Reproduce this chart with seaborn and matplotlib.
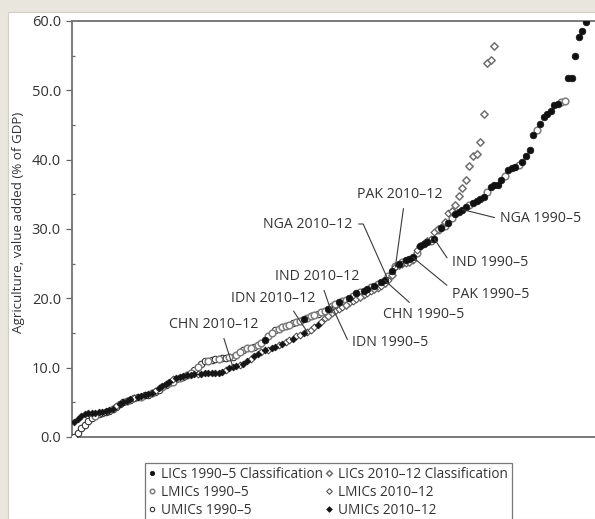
import matplotlib
matplotlib.use("Agg")
import matplotlib.pyplot as plt
from matplotlib.patches import Rectangle
from matplotlib.lines import Line2D
import seaborn as sns
import pandas as pd

sns.set_theme(style="white")
plt.rcParams["font.family"] = ["Open Sans", "DejaVu Sans"]

# Agriculture value added (% of GDP), countries ranked within each period
share_1990 = [
    0.0, 0.6, 1.3, 1.8, 2.3, 2.7, 3.0, 3.3, 3.5, 3.6,
    3.8, 4.0, 4.3, 4.7, 5.0, 5.2, 5.4, 5.6, 5.7, 5.8,
    6.0, 6.1, 6.3, 6.5, 6.8, 7.2, 7.5, 7.8, 8.0, 8.3,
    8.5, 8.7, 8.9, 9.3, 9.6, 10.1, 10.6, 10.9, 11.0, 11.1,
    11.2, 11.3, 11.4, 11.4, 11.5, 11.6, 11.8, 12.2, 12.5, 12.8,
    12.9, 13.0, 13.3, 13.6, 14.0, 14.5, 15.0, 15.4, 15.6, 15.8,
    16.0, 16.2, 16.4, 16.6, 16.8, 17.0, 17.2, 17.4, 17.6, 17.8,
    18.0, 18.2, 18.5, 18.9, 19.2, 19.4, 19.6, 19.8, 20.1, 20.4,
    20.7, 20.9, 21.1, 21.4, 21.6, 21.8, 22.0, 22.3, 22.6, 23.2,
    24.0, 24.6, 25.0, 25.3, 25.5, 25.7, 25.9, 26.5, 27.5, 27.8,
    28.1, 28.3, 28.6, 29.8, 30.2, 30.5, 30.8, 31.6, 32.2, 32.5,
    32.8, 33.2, 33.5, 33.8, 34.1, 34.3, 34.6, 35.3, 36.0, 36.3,
    36.4, 37.0, 37.7, 38.5, 38.8, 39.0, 39.2, 39.7, 40.6, 41.4,
    43.6, 44.3, 45.1, 46.2, 46.6, 47.0, 47.9, 48.1, 48.3, 48.5,
    51.8, 51.8, 55.0, 57.7, 58.6, 59.9,
]
# income group of each country under the 1990-5 classification (L/M/U)
group_1990 = (
    "UUUUUUMUUU" "UMUUUMUUUM" "UUMUUMUMMU" "MUMMUMUUMU" "UMUUMUMMUM"
    "MUMMLMMUMM" "MMUMMLMMMU" "MMLMMLMMLM" "LMLLMLMLLM" "LMLMLLLMLL"
    "LMLMLMLMLL" "LLMLLLLMLL" "LLMLLLMLLL" "LMLLLLLLMM" "LLLLLL"
)

share_2010 = [
    2.2, 2.6, 3.0, 3.3, 3.4, 3.5, 3.5, 3.6, 3.6, 3.7,
    3.9, 4.1, 4.4, 4.8, 5.0, 5.2, 5.5, 5.6, 5.7, 5.9,
    6.0, 6.2, 6.4, 6.7, 7.0, 7.3, 7.6, 8.0, 8.3, 8.5,
    8.7, 8.8, 8.9, 9.0, 9.1, 9.1, 9.1, 9.2, 9.2, 9.2,
    9.2, 9.3, 9.4, 9.6, 9.9, 10.1, 10.2, 10.4, 10.6, 11.0,
    11.3, 11.7, 12.0, 12.3, 12.5, 12.6, 12.8, 13.0, 13.2, 13.4,
    13.7, 14.0, 14.2, 14.5, 14.7, 15.0, 15.2, 15.5, 15.8, 16.2,
    16.6, 17.1, 17.5, 17.9, 18.2, 18.5, 18.8, 19.0, 19.3, 19.6,
    19.9, 20.2, 20.5, 20.8, 21.1, 21.3, 21.5, 21.8, 22.2, 22.6,
    23.4, 24.5, 24.8, 25.0, 25.1, 25.3, 25.6, 27.0, 27.6, 28.0,
    28.2, 28.5, 29.5, 30.0, 30.3, 31.0, 32.3, 32.6, 33.5, 34.8,
    35.9, 37.1, 39.1, 40.5, 40.8, 42.6, 46.6, 54.0, 54.4, 56.4,
]
group_2010 = (
    "UUUUUUUUUU" "UUMUUUUMUU" "UUUMUUUUMU" "UUUUUMUUUU" "UUUMUUUMUU"
    "MUUMUMUUMU" "MMUMMUMMMU" "MMLMMMMLMM" "MLMMMLMMLM" "LMLMMLMMLM"
    "LMMLMLMLLL" "LLLLLLLLLL"
)

# labelled countries: (text, period, rank)
callouts = [
    ("CHN 2010–12", "2010", 45),
    ("IDN 2010–12", "2010", 66),
    ("IND 2010–12", "2010", 73),
    ("NGA 2010–12", "2010", 89),
    ("PAK 2010–12", "2010", 91),
    ("IDN 1990–5", "1990", 73),
    ("CHN 1990–5", "1990", 88),
    ("PAK 1990–5", "1990", 96),
    ("IND 1990–5", "1990", 102),
    ("NGA 1990–5", "1990", 110),
]

legend_labels = {
    ("1990", "L"): "LICs 1990–5 Classification",
    ("1990", "M"): "LMICs 1990–5",
    ("1990", "U"): "UMICs 1990–5",
    ("2010", "L"): "LICs 2010–12 Classification",
    ("2010", "M"): "LMICs 2010–12",
    ("2010", "U"): "UMICs 2010–12",
}

df = pd.concat([
    pd.DataFrame({"rank": range(len(share_1990)), "share": share_1990,
                  "group": list(group_1990), "period": "1990"}),
    pd.DataFrame({"rank": range(len(share_2010)), "share": share_2010,
                  "group": list(group_2010), "period": "2010"}),
], ignore_index=True)

styles = {
    ("1990", "U"): dict(marker="o", s=22, color="white", edgecolor="#2a2a2a", linewidth=0.75),
    ("1990", "M"): dict(marker="o", s=23, color="white", edgecolor="#7c7c7c", linewidth=1.1),
    ("2010", "M"): dict(marker="D", s=12, color="white", edgecolor="#4a4a4a", linewidth=0.75),
    ("2010", "L"): dict(marker="D", s=14, color="white", edgecolor="#707070", linewidth=1.1),
    ("2010", "U"): dict(marker="D", s=12, color="#151515", edgecolor="#151515", linewidth=0.5),
    ("1990", "L"): dict(marker="o", s=23, color="#111111", edgecolor="#111111", linewidth=0.5),
}

W, H = 595, 519
fig = plt.figure(figsize=(W / 100, H / 100), dpi=100)
fig.patch.set_facecolor("#e8e6dd")
fig.add_artist(Rectangle((8 / W, 0), 1, (H - 12) / H, transform=fig.transFigure,
                         facecolor="white", edgecolor="#cfcfc8", linewidth=0.8, zorder=0))

ax = fig.add_axes([72 / W, 82 / H, (W - 72) / W, (437 - 21) / H])
ax.set_facecolor("none")

for (period, grp), st in styles.items():
    sub = df[(df.period == period) & (df.group == grp)]
    sns.scatterplot(data=sub, x="rank", y="share", ax=ax, legend=False, zorder=3, **st)

px_per_rank = (586 - 74) / (len(share_1990) - 1)
ax.set_xlim(-2 / px_per_rank, (W - 74) / px_per_rank)
ax.set_ylim(0, 60)
ax.set_xlabel("")
ax.set_ylabel("Agriculture, value added (% of GDP)", fontsize=9.6, color="#333333")
ax.yaxis.set_label_coords(-0.089, 0.515)
ax.set_xticks([])
ax.set_yticks(range(0, 61, 10))
ax.set_yticklabels([f"{v:.1f}" for v in range(0, 61, 10)])
ax.set_yticks(range(5, 60, 10), minor=True)
ax.tick_params(axis="y", which="major", direction="out", length=4, width=0.9,
               color="#666666", labelsize=10.5, labelcolor="#333333", pad=4, left=True)
ax.tick_params(axis="y", which="minor", direction="in", length=2, width=0.9,
               color="#666666", left=True)
for side in ("left", "top", "bottom"):
    ax.spines[side].set_color("#6f6f6f")
    ax.spines[side].set_linewidth(1.3)
ax.spines["right"].set_visible(False)

# callout text placement (figure pixels) and leader-line geometry
text_pos = {
    "CHN 2010–12": ((214, 325), (0.59, 0.0), "arc3"),
    "IDN 2010–12": ((273, 298), (0.70, 0.0), "arc3"),
    "IND 2010–12": ((317, 277), (0.56, 0.0), "arc3"),
    "NGA 2010–12": ((308, 224), (1.0, 0.5), "angle,angleA=0,angleB=114,rad=0"),
    "PAK 2010–12": ((400, 195), (0.55, 0.0), "arc3"),
    "IDN 1990–5": ((390, 342), (0.0, 0.5), "angle,angleA=0,angleB=115,rad=0"),
    "CHN 1990–5": ((424, 315), (0.39, 1.0), "arc3"),
    "PAK 1990–5": ((491, 295), (0.0, 0.85), "arc3"),
    "IND 1990–5": ((490, 262), (0.0, 0.5), "angle,angleA=0,angleB=124,rad=0"),
    "NGA 1990–5": ((541, 219), (0.0, 0.5), "arc3"),
}
series = {"1990": share_1990, "2010": share_2010}
for label, period, rank in callouts:
    (tx, ty), rel, conn = text_pos[label]
    ax.annotate(label, xy=(rank, series[period][rank]), xycoords="data",
                xytext=(tx, H - ty), textcoords="figure pixels",
                ha="center", va="center", fontsize=10.2, color="#333333", zorder=5,
                arrowprops=dict(arrowstyle="-", color="#3a3a3a", lw=0.8,
                                shrinkA=2, shrinkB=0, relpos=rel,
                                connectionstyle=conn))

handles, labels = [], []
for period in ("1990", "2010"):
    for grp in ("L", "M", "U"):
        st = styles[(period, grp)]
        handles.append(Line2D([], [], linestyle="none", marker=st["marker"],
                              markersize=3.2 if st["marker"] == "o" else 2.9,
                              markerfacecolor=st["color"], markeredgecolor=st["edgecolor"],
                              markeredgewidth=st["linewidth"]))
        labels.append(legend_labels[(period, grp)])

leg = fig.legend(handles, labels, ncol=2, loc="upper left",
                 bbox_to_anchor=(145 / W, (H - 463) / H), frameon=True, fancybox=False,
                 fontsize=9.8, handlelength=0.5, handletextpad=0.4, columnspacing=0.15,
                 borderpad=0.3, labelspacing=0.2, borderaxespad=0)
leg.get_frame().set_edgecolor("#555555")
leg.get_frame().set_linewidth(0.9)
for t in leg.get_texts():
    t.set_color("#333333")

fig.savefig("out.png", dpi=100, facecolor=fig.get_facecolor())
